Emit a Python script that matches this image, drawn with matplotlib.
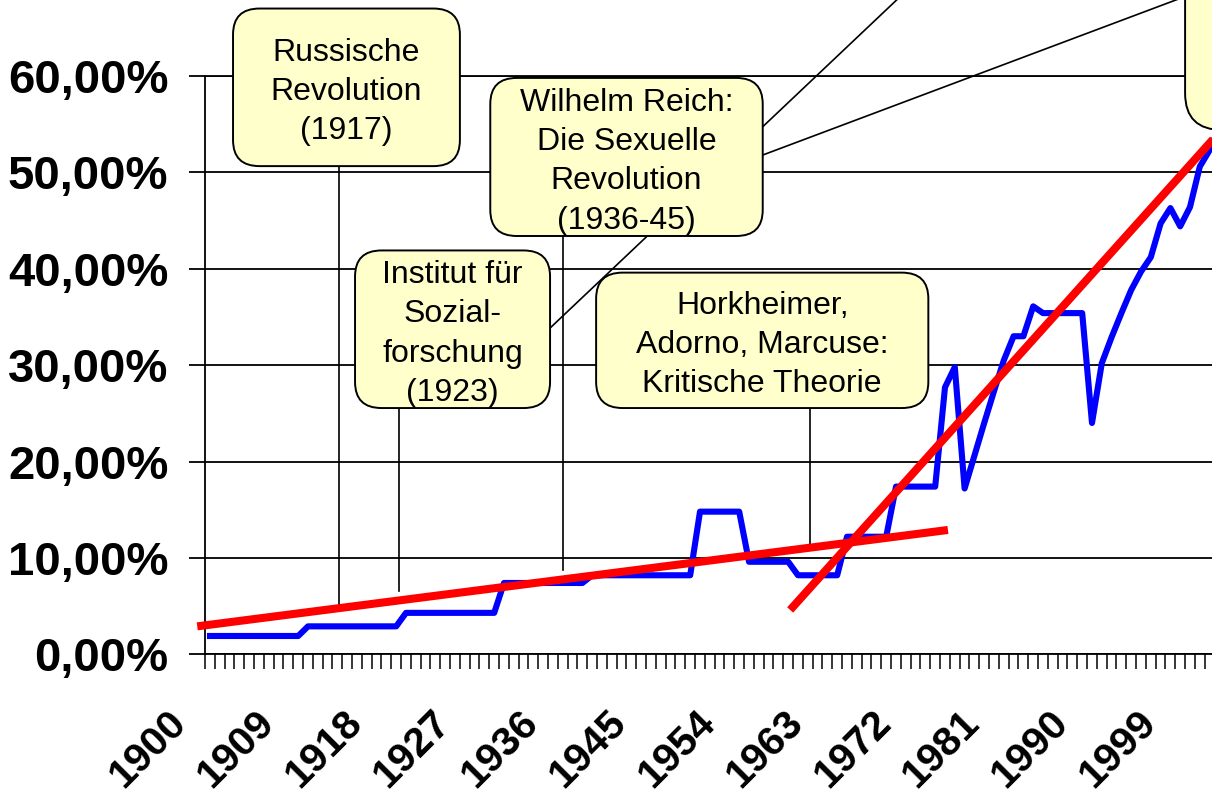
import matplotlib
matplotlib.use("Agg")
import matplotlib.pyplot as plt
import matplotlib.transforms as mtransforms
from matplotlib.patches import FancyBboxPatch

plt.rcParams['font.family'] = ['Liberation Sans', 'DejaVu Sans']

# Share per year (percent), 1900-2003
years = list(range(1900, 2004))
share = [
    1.9, 1.9, 1.9, 1.9, 1.9, 1.9, 1.9, 1.9, 1.9, 1.9,            # 1900s
    2.9, 2.9, 2.9, 2.9, 2.9, 2.9, 2.9, 2.9, 2.9, 2.9,            # 1910s
    4.3, 4.3, 4.3, 4.3, 4.3, 4.3, 4.3, 4.3, 4.3, 4.3,            # 1920s
    7.4, 7.4, 7.4, 7.4, 7.4, 7.4, 7.4, 7.4, 7.4, 8.2,            # 1930s
    8.2, 8.2, 8.2, 8.2, 8.2, 8.2, 8.2, 8.2, 8.2, 8.2,            # 1940s
    14.8, 14.8, 14.8, 14.8, 14.8, 9.6, 9.6, 9.6, 9.6, 9.6,       # 1950s
    8.2, 8.2, 8.2, 8.2, 8.2, 12.2, 12.2, 12.2, 12.2, 12.2,       # 1960s
    17.4, 17.4, 17.4, 17.4, 17.4, 27.7, 29.8, 17.2, 20.6, 24.0,  # 1970s
    27.3, 30.5, 33.0, 33.0, 36.1, 35.4, 35.4, 35.4, 35.4, 35.4,  # 1980s
    24.0, 30.2, 32.9, 35.4, 37.8, 39.7, 41.2, 44.7, 46.3, 44.4,  # 1990s
    46.4, 50.6, 52.3, 55.0,                                      # 2000s
]

# two red trend lines (start / end)
trend1_years = [1898.7, 1975.3]
trend1_vals = [2.9, 12.9]
trend2_years = [1959.2, 2004.0]
trend2_vals = [4.6, 55.3]

label_years = [1900, 1909, 1918, 1927, 1936, 1945, 1954, 1963, 1972, 1981, 1990, 1999]
y_ticks = [0, 10, 20, 30, 40, 50, 60]

# annotation boxes: text, x0, x1, y0, y1 (data units)
box_texts = ["Russische\nRevolution\n(1917)",
             "Institut für\nSozial-\nforschung\n(1923)",
             "Wilhelm Reich:\nDie Sexuelle\nRevolution\n(1936-45)",
             "Horkheimer,\nAdorno, Marcuse:\nKritische Theorie",
             ""]
box_x0 = [1902.35, 1914.8, 1928.6, 1939.4, 1999.5]
box_x1 = [1925.5, 1934.7, 1956.4, 1973.3, 2010.0]
box_y0 = [50.65, 25.55, 43.4, 25.55, 54.4]
box_y1 = [67.0, 41.9, 59.8, 39.6, 80.0]
box_round = [2.7, 2.7, 2.7, 2.7, 3.8]

# connector lines: (x start, x end), (y start, y end)
conn_x = [(1913.2, 1913.2), (1919.3, 1919.3), (1936.05, 1936.05), (1961.2, 1961.2),
          (1934.7, 1970.7), (1956.4, 2002.0)]
conn_y = [(50.6, 5.1), (25.6, 6.6), (43.4, 8.75), (25.6, 11.3),
          (33.85, 68.5), (51.8, 69.2)]

fig = plt.figure(figsize=(12.12, 7.99), dpi=100)
x_left, x_right = 1899.5, 2010.5
px_per_year = 9.8
ax = fig.add_axes([205.1 / 1212, (799 - 654.3) / 799,
                   (x_right - x_left) * px_per_year / 1212, (654.3 - 76) / 799])

ax.plot(years, share, color='#0000FF', lw=4.4, solid_joinstyle='round', zorder=3)
ax.plot(trend1_years, trend1_vals, color='#FF0000', lw=5.8, zorder=4, clip_on=False,
        solid_capstyle='butt')
ax.plot(trend2_years, trend2_vals, color='#FF0000', lw=5.8, zorder=4, clip_on=False,
        solid_capstyle='butt')

for cx, cy in zip(conn_x, conn_y):
    ax.plot(cx, cy, color='black', lw=1.2, zorder=2.5, clip_on=False)

for txt, x0, x1, y0, y1, r in zip(box_texts, box_x0, box_x1, box_y0, box_y1, box_round):
    patch = FancyBboxPatch((x0, y0), x1 - x0, y1 - y0,
                           boxstyle=f"round,pad=0,rounding_size={r}",
                           facecolor='#FFFFCC', edgecolor='black', lw=1.4,
                           zorder=5, clip_on=False)
    ax.add_patch(patch)
    if txt:
        ax.text((x0 + x1) / 2, (y0 + y1) / 2 - 0.5, txt, ha='center', va='center',
                fontsize=23, zorder=6, linespacing=1.4)

ax.set_xlim(x_left, x_right)
ax.set_ylim(0, 60)

# category boundaries as visible ticks, labels at category centres
ax.set_xticks(label_years)
ax.set_xticklabels([str(y) for y in label_years], rotation=45, ha='right',
                   fontsize=29.5, fontweight='bold')
ax.set_xticks([x_left + i for i in range(int(x_right - x_left) + 1)], minor=True)
ax.tick_params(axis='x', which='major', length=0, pad=35)
ax.tick_params(axis='x', which='minor', length=11, width=1.1, direction='out', color='black')
offset = mtransforms.ScaledTranslation(-17 / 100, 0, fig.dpi_scale_trans)
for lab in ax.get_xticklabels():
    lab.set_transform(lab.get_transform() + offset)

ax.set_yticks(y_ticks)
ax.set_yticklabels([f"{v:.2f}%".replace('.', ',') for v in y_ticks],
                   fontsize=34, fontweight='bold')
ax.tick_params(axis='y', length=11.5, width=1.3, direction='out', pad=15, color='black')

ax.yaxis.grid(True, color='black', lw=1.3)
ax.set_axisbelow(True)
for side in ['left', 'bottom', 'top']:
    ax.spines[side].set_color('black')
    ax.spines[side].set_linewidth(1.3)
ax.spines['right'].set_visible(False)

fig.savefig("out.png", dpi=100)
